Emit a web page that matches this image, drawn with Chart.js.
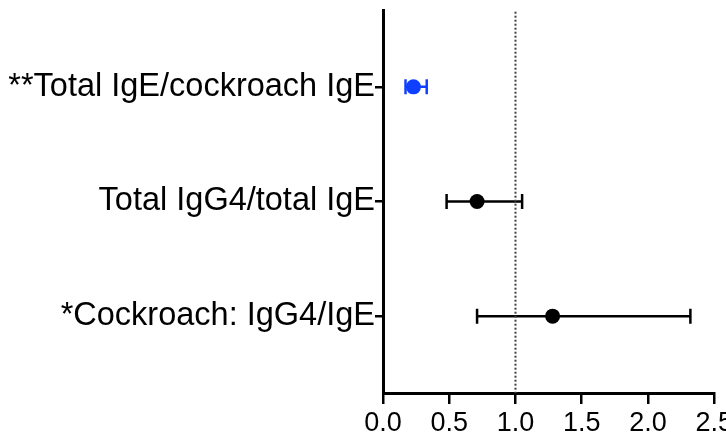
<!DOCTYPE html>
<html>
<head>
<meta charset="utf-8">
<script src="https://cdn.jsdelivr.net/npm/chart.js@4/dist/chart.umd.min.js"></script>
<style>
  html, body { margin: 0; padding: 0; background: #fff; overflow: hidden; }
  #wrap { width: 736px; height: 438px; }
</style>
</head>
<body>
<div id="wrap"><canvas id="chart"></canvas></div>
<script>
// data
const labels = ['**Total IgE/cockroach IgE', 'Total IgG4/total IgE', '*Cockroach: IgG4/IgE'];
const rows = [1, 2, 3];
const ratio = [0.23, 0.71, 1.28];
const lower = [0.17, 0.48, 0.71];
const upper = [0.33, 1.05, 2.32];
const colors = ['#1040ff', '#000000', '#000000'];
const xTicks = [0, 0.5, 1, 1.5, 2, 2.5];
const refValue = 1.0;

const datasets = [];

// reference line at 1.0 (dotted)
datasets.push({
  type: 'scatter',
  data: [{ x: refValue, y: 0.31 }, { x: refValue, y: 3.67 }],
  showLine: true,
  borderColor: '#444',
  borderWidth: 2,
  borderDash: [2, 2],
  pointRadius: 0
});

// error bars with caps
rows.forEach(function (r, i) {
  datasets.push({
    type: 'scatter',
    data: [{ x: lower[i], y: r }, { x: upper[i], y: r }],
    showLine: true,
    borderColor: colors[i],
    borderWidth: 2.5,
    pointStyle: 'line',
    rotation: 90,
    pointRadius: 7.5,
    pointBorderWidth: 2.5,
    pointBorderColor: colors[i]
  });
});

// points
rows.forEach(function (r, i) {
  datasets.push({
    type: 'scatter',
    data: [{ x: ratio[i], y: r }],
    pointRadius: 7.5,
    pointBackgroundColor: colors[i],
    pointBorderColor: colors[i],
    pointBorderWidth: 0
  });
});

const ctx = document.getElementById('chart').getContext('2d');
new Chart(ctx, {
  type: 'scatter',
  data: { datasets: datasets },
  options: {
    responsive: true,
    maintainAspectRatio: false,
    animation: false,
    layout: { padding: { top: 10, left: 0, right: 0, bottom: 0 } },
    plugins: {
      legend: { display: false },
      tooltip: { enabled: false }
    },
    scales: {
      x: {
        type: 'linear',
        min: 0,
        max: 2.5,
        afterBuildTicks: function (scale) {
          scale.ticks = xTicks.map(function (v) { return { value: v }; });
        },
        afterFit: function (scale) { scale.height = 45; },
        ticks: {
          color: '#000',
          font: { family: 'Liberation Sans, Arial, sans-serif', size: 27 },
          padding: 3,
          maxRotation: 0,
          autoSkip: false,
          callback: function (v) { return v.toFixed(1); }
        },
        grid: {
          display: true,
          drawOnChartArea: false,
          drawTicks: true,
          tickLength: 11,
          color: '#000',
          lineWidth: 2.5
        },
        border: { display: true, color: '#000', width: 3 }
      },
      y: {
        type: 'linear',
        reverse: true,
        min: 0.33,
        max: 3.67,
        afterBuildTicks: function (scale) {
          scale.ticks = rows.map(function (v) { return { value: v }; });
        },
        afterFit: function (scale) {
          scale.width = 383;
          scale.paddingTop = 0;
          scale.paddingBottom = 0;
        },
        ticks: {
          color: '#000',
          font: { family: 'Liberation Sans, Arial, sans-serif', size: 32.5 },
          padding: 0,
          autoSkip: false,
          callback: function (v) { return labels[rows.indexOf(v)]; }
        },
        grid: {
          display: true,
          drawOnChartArea: false,
          drawTicks: true,
          tickLength: 8,
          color: '#000',
          lineWidth: 2.5
        },
        border: { display: true, color: '#000', width: 3 }
      }
    }
  }
});
</script>
</body>
</html>
